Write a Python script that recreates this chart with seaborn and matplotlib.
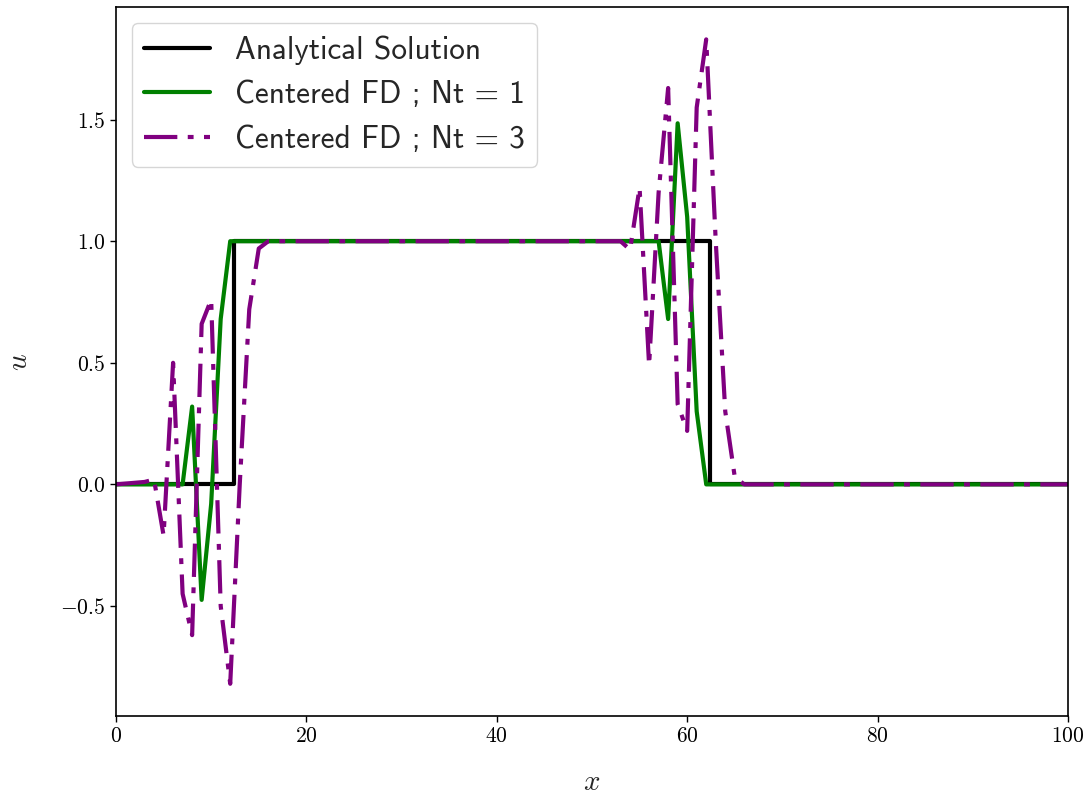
import numpy as np
import pandas as pd
import matplotlib
matplotlib.use("Agg")
import matplotlib.pyplot as plt
import seaborn as sns

# ---- data ----
x_exact = [0.0, 12.35, 12.35, 62.35, 62.35, 100.0]
u_exact = [0.0, 0.0, 1.0, 1.0, 0.0, 0.0]

x_nt1 = [0, 7, 8, 9, 10, 11, 12, 57, 58, 59, 60, 61, 62, 100]
u_nt1 = [0.0, 0.0, 0.32, -0.475, -0.08, 0.68, 1.0, 1.0, 0.68, 1.485, 1.1, 0.3, 0.0, 0.0]

x_nt3 = [0, 3, 4, 5, 6, 7, 8, 9, 10, 11, 12, 13, 14, 15, 16,
         53, 54, 55, 56, 57, 58, 59, 60, 61, 62, 63, 64, 65, 66, 100]
u_nt3 = [0.0, 0.01, 0.02, -0.21, 0.5, -0.45, -0.62, 0.66, 0.76, -0.5, -0.82, 0.0, 0.72, 0.97, 1.0,
         1.0, 0.965, 1.22, 0.49, 1.2, 1.63, 0.33, 0.22, 1.55, 1.83, 1.0, 0.3, 0.03, 0.0, 0.0]

labels = ["Analytical Solution", "Centered FD ; Nt = 1", "Centered FD ; Nt = 3"]
xticks = [0, 20, 40, 60, 80, 100]
yticks = [-0.5, 0.0, 0.5, 1.0, 1.5]

# ---- style ----
sns.set_style("ticks")
plt.rcParams["font.family"] = ["cmr10", "DejaVu Serif"]
plt.rcParams["mathtext.fontset"] = "cm"
plt.rcParams["axes.formatter.use_mathtext"] = True
plt.rcParams["axes.unicode_minus"] = True

fig = plt.figure(figsize=(10.91, 7.96), dpi=100)
ax = fig.add_axes([0.1063, 0.1005, 0.9789 - 0.1063, 0.991 - 0.1005])

dash = (0, (8, 2.5, 1.4, 2.5))

sns.lineplot(x=x_exact, y=u_exact, ax=ax, color="black", lw=3,
             estimator=None, sort=False, label=labels[0])
sns.lineplot(x=x_nt1, y=u_nt1, ax=ax, color="green", lw=3,
             estimator=None, sort=False, label=labels[1])
sns.lineplot(x=x_nt3, y=u_nt3, ax=ax, color="purple", lw=3,
             estimator=None, sort=False, label=labels[2])
ax.lines[-1].set_linestyle(dash)

ax.set_xlim(0, 100)
ax.set_xticks(xticks)
ax.set_yticks(yticks)
ax.tick_params(labelsize=15.5, direction="out", length=4, width=1, colors="black")
for s in ax.spines.values():
    s.set_visible(True)
    s.set_color("black")
    s.set_linewidth(1.2)

ax.set_xlabel("$x$", fontsize=21, labelpad=17)
ax.set_ylabel("$u$", fontsize=21, labelpad=20)

leg = ax.legend(loc="upper left", prop={"family": "cmss10", "size": 22.5},
                frameon=True, handlelength=2.1)
leg.get_lines()[2].set_linestyle(dash)

fig.savefig("out.png", dpi=100)
